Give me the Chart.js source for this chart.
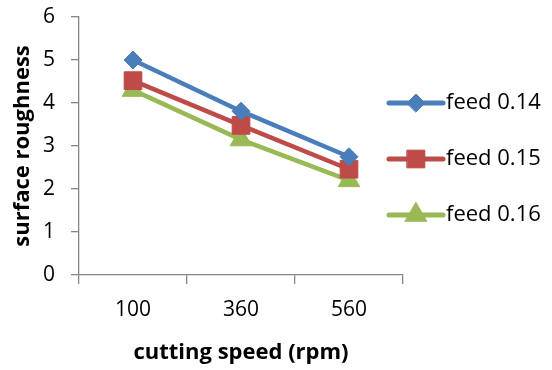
<!DOCTYPE html>
<html><head><meta charset="utf-8">
<script src="https://cdn.jsdelivr.net/npm/chart.js@4/dist/chart.umd.min.js"></script>
<style>html,body{margin:0;padding:0;background:#fff}#wrap{width:552px;height:370px}</style>
</head><body><div id="wrap"><canvas id="c" width="552" height="370"></canvas></div>
<script>
const categories = ['100', '360', '560'];
const seriesNames = ['feed 0.14', 'feed 0.15', 'feed 0.16'];
const feed014 = [5.0, 3.81, 2.75];
const feed015 = [4.52, 3.48, 2.46];
const feed016 = [4.3, 3.15, 2.2];
const yTicks = [0, 1, 2, 3, 4, 5, 6];

const FONT = "Open Sans";
const colors = ['#4A7EBB', '#BE4B48', '#98B954'];
const styles = ['rectRot', 'rect', 'triangle'];
const radii = [9, 12.5, 12.5];

const legendPlugin = {
  id: 'customLegend',
  afterDraw(chart) {
    const ctx = chart.ctx;
    const ys = [103, 159, 215];
    chart.data.datasets.forEach((ds, i) => {
      const y = ys[i];
      ctx.save();
      ctx.strokeStyle = ds.borderColor;
      ctx.fillStyle = ds.borderColor;
      ctx.lineWidth = 5;
      ctx.lineCap = 'round';
      ctx.beginPath(); ctx.moveTo(389, y); ctx.lineTo(443, y); ctx.stroke();
      ctx.lineWidth = 1;
      Chart.helpers.drawPoint(ctx, {pointStyle: ds.pointStyle, radius: ds.pointRadius, borderWidth: 1, rotation: 0}, 416, y);
      ctx.fillStyle = '#000';
      ctx.font = '22px "' + FONT + '"';
      ctx.textBaseline = 'middle';
      ctx.textAlign = 'left';
      ctx.fillText(ds.label, 446, y);
      ctx.restore();
    });
  }
};

const datasets = [feed014, feed015, feed016].map((d, i) => ({
  label: seriesNames[i],
  data: d,
  borderColor: colors[i],
  backgroundColor: colors[i],
  borderWidth: 4.5,
  pointStyle: styles[i],
  pointRadius: radii[i],
  pointHoverRadius: radii[i],
  pointBackgroundColor: colors[i],
  pointBorderColor: colors[i],
  pointBorderWidth: 1,
  tension: 0
}));

new Chart(document.getElementById('c'), {
  type: 'line',
  data: { labels: categories, datasets },
  options: {
    responsive: false,
    animation: false,
    layout: { padding: { left: 0, top: 17, right: 149, bottom: 0 } },
    plugins: { legend: { display: false }, tooltip: { enabled: false } },
    scales: {
      x: {
        offset: true,
        grid: { offset: true, drawOnChartArea: false, tickLength: 9, color: '#868686', lineWidth: 1.3 },
        border: { color: '#868686', width: 1.3 },
        ticks: { color: '#000', font: { family: FONT, size: 21 }, padding: 13 },
        title: { display: true, text: 'cutting speed (rpm)', color: '#000', font: { family: FONT, size: 22, weight: 'bold' }, padding: { top: 4, bottom: 4 } },
        afterFit(s) { s.height = 95; s.paddingLeft = 0; s.paddingRight = 0; }
      },
      y: {
        min: 0, max: 6,
        afterBuildTicks(s) { s.ticks = yTicks.map(v => ({ value: v })); },
        grid: { drawOnChartArea: false, tickLength: 8, color: '#868686', lineWidth: 1.3 },
        border: { color: '#868686', width: 1.3 },
        ticks: { color: '#000', font: { family: FONT, size: 21 }, padding: 16 },
        title: { display: true, text: 'surface roughness', color: '#000', font: { family: FONT, size: 22, weight: 'bold' }, padding: { top: 10, bottom: 0 } },
        afterFit(s) { s.width = 79; s.paddingTop = 0; s.paddingBottom = 0; }
      }
    }
  },
  plugins: [legendPlugin]
});
</script></body></html>
